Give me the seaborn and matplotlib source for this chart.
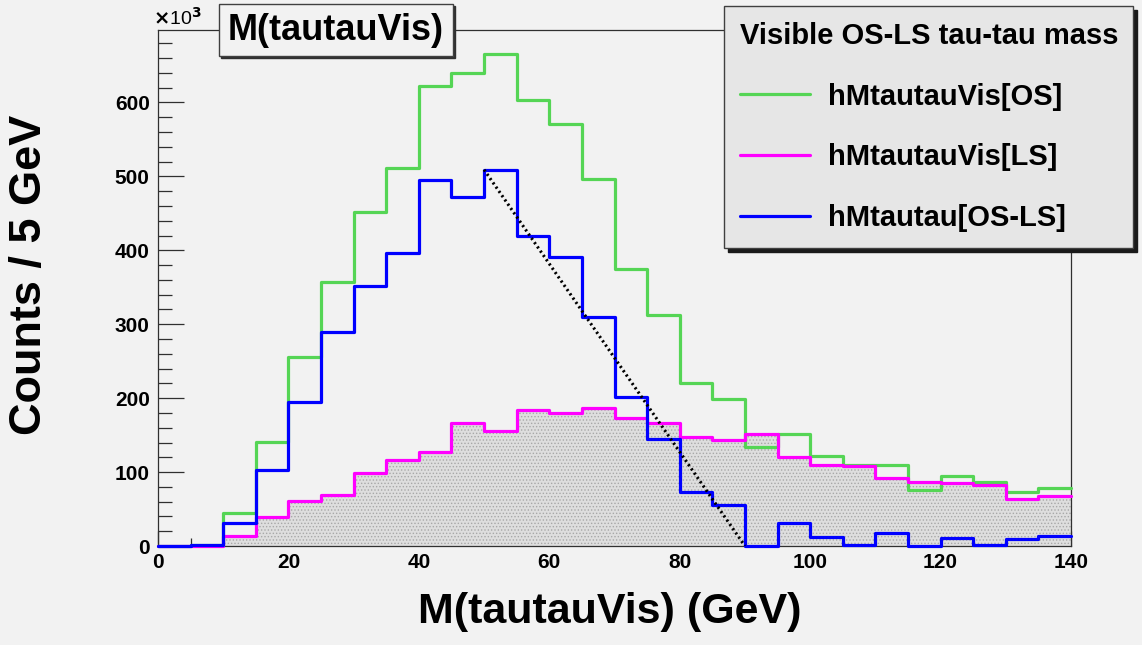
import numpy as np
import pandas as pd
import matplotlib
matplotlib.use("Agg")
import matplotlib.pyplot as plt
from matplotlib.ticker import MultipleLocator
from matplotlib.lines import Line2D
import seaborn as sns

# ---- data (counts in units of 10^3 per 5 GeV bin) ----
bin_edges = list(range(0, 145, 5))
os_counts = [0, 2, 45, 141, 256, 357, 452, 512, 622, 640, 666, 603, 571, 497,
             375, 313, 221, 199, 134, 152, 122, 109, 109, 76, 95, 86, 73, 79]
ls_counts = [0, 0, 13, 39, 61, 69, 99, 116, 127, 167, 156, 184, 180, 187,
             173, 166, 147, 144, 152, 120, 110, 108, 92, 86, 85, 83, 64, 67]
diff_counts = [0, 2, 31, 103, 195, 289, 352, 396, 495, 472, 509, 420, 391, 310,
               202, 145, 73, 55, 0, 31, 12, 1, 17, 0, 11, 2, 10, 13]
fit_x = [50, 90]
fit_y = [509, 0]
series_labels = ["hMtautauVis[OS]", "hMtautauVis[LS]", "hMtautau[OS-LS]"]
legend_title = "Visible OS-LS tau-tau mass"
plot_title = "M(tautauVis)"
x_label = "M(tautauVis) (GeV)"
y_label = "Counts / 5 GeV"

centers = [(a + b) / 2 for a, b in zip(bin_edges[:-1], bin_edges[1:])]
df = pd.DataFrame({"x": centers, "os": os_counts, "ls": ls_counts, "diff": diff_counts})

sns.set_theme(style="white")
plt.rcParams["font.family"] = ["Liberation Sans", "DejaVu Sans"]
plt.rcParams["font.weight"] = "bold"
plt.rcParams["text.color"] = "black"
plt.rcParams["hatch.color"] = "#a8a8a8"
plt.rcParams["hatch.linewidth"] = 0.6

BG = "#f2f2f2"
fig = plt.figure(figsize=(11.42, 6.45), dpi=100, facecolor=BG)
ax = fig.add_axes([158 / 1142, 1 - 546 / 645, (1071 - 158) / 1142, (546 - 30) / 645])
ax.set_facecolor(BG)

c_os, c_ls, c_diff = "#55d555", "#ff00ff", "#0000ff"
lw = 2.3

# filled LS histogram (grey stipple)
sns.histplot(data=df, x="x", weights="ls", bins=bin_edges, element="step", fill=True,
             color="#dddddd", alpha=1.0, linewidth=0, ax=ax)
for coll in ax.collections:
    coll.set_hatch(".....")
    coll.set_facecolor("#dedede")
    coll.set_edgecolor("#a8a8a8")
    coll.set_linewidth(0)

n_before = len(ax.lines)
sns.histplot(data=df, x="x", weights="os", bins=bin_edges, element="step", fill=False,
             color=c_os, linewidth=lw, ax=ax)
sns.histplot(data=df, x="x", weights="ls", bins=bin_edges, element="step", fill=False,
             color=c_ls, linewidth=lw, ax=ax)
sns.histplot(data=df, x="x", weights="diff", bins=bin_edges, element="step", fill=False,
             color=c_diff, linewidth=lw, ax=ax)
for ln in ax.lines[n_before:]:
    ln.set_clip_on(False)
    ln.set_zorder(4)
sns.lineplot(x=fit_x, y=fit_y, color="black", linewidth=2.2, linestyle=(0, (0.7, 1.0)),
             ax=ax, zorder=5)

ax.set_xlim(0, 140)
ax.set_ylim(0, 698)
ax.set_xlabel("")
ax.set_ylabel("")

for s in ax.spines.values():
    s.set_color("#303030")
    s.set_linewidth(0.9)
    s.set_visible(True)
    s.set_zorder(3)

ax.xaxis.set_major_locator(MultipleLocator(20))
ax.xaxis.set_minor_locator(MultipleLocator(5))
ax.yaxis.set_major_locator(MultipleLocator(100))
ax.yaxis.set_minor_locator(MultipleLocator(20))
ax.tick_params(axis="x", which="major", direction="in", length=11, width=0.9, color="#303030",
               bottom=True, top=False, labelsize=15, labelcolor="black", pad=5)
ax.tick_params(axis="x", which="minor", direction="in", length=6, width=0.9, color="#303030",
               bottom=True, top=False)
ax.tick_params(axis="y", which="major", direction="in", length=19, width=0.9, color="#303030",
               left=True, right=False, labelsize=15, labelcolor="black", pad=6)
ax.tick_params(axis="y", which="minor", direction="in", length=10, width=0.9, color="#303030",
               left=True, right=False)
for lab in ax.get_xticklabels() + ax.get_yticklabels():
    lab.set_fontweight("bold")

# axis titles
fig.text(610 / 1142, 1 - 612 / 645, x_label, ha="center", va="center",
         fontsize=31, fontweight="bold", color="black")
fig.text(30 / 1142, 1 - 275 / 645, y_label, ha="center", va="center", rotation=90,
         fontsize=32.5, fontweight="bold", color="black")

# x10^3 multiplier
fig.text(153 / 1142, 1 - 18 / 645, r"$\times$10$^{3}$", ha="left", va="center",
         fontsize=14, fontweight="normal", color="black")

# title box with shadow
fig.text(338 / 1142, 1 - 32 / 645, plot_title, ha="center", va="center",
         fontsize=26, fontweight="bold", color=(0, 0, 0, 0),
         bbox=dict(boxstyle="square,pad=0.24", facecolor="#303030", edgecolor="#303030",
                   linewidth=1.0))
fig.text(336 / 1142, 1 - 30 / 645, plot_title, ha="center", va="center",
         fontsize=26, fontweight="bold", color="black",
         bbox=dict(boxstyle="square,pad=0.24", facecolor=BG, edgecolor="#404040", linewidth=1.0))

# legend
handles = [Line2D([], [], color=c, linewidth=lw) for c in (c_os, c_ls, c_diff)]
leg = fig.legend(handles, series_labels, title=legend_title,
                 loc="upper left",
                 bbox_to_anchor=(724 / 1142, 1 - 6 / 645, (1133 - 724) / 1142, 0.0),
                 mode="expand", alignment="left",
                 prop={"size": 21, "weight": "bold"},
                 title_fontproperties={"size": 21, "weight": "bold"},
                 frameon=True, fancybox=False,
                 shadow={"color": "#1a1a1a", "alpha": 1.0, "ox": 3, "oy": -3},
                 handlelength=2.4, handletextpad=0.6, labelspacing=1.12,
                 borderpad=0.55, borderaxespad=0.0)
leg.get_title().set_color("black")
for t in leg.get_texts():
    t.set_color("black")
fr = leg.get_frame()
fr.set_facecolor("#e6e6e6")
fr.set_edgecolor("#404040")
fr.set_linewidth(1.0)
fr.set_alpha(1.0)

fig.savefig("out.png", dpi=100, facecolor=BG)
